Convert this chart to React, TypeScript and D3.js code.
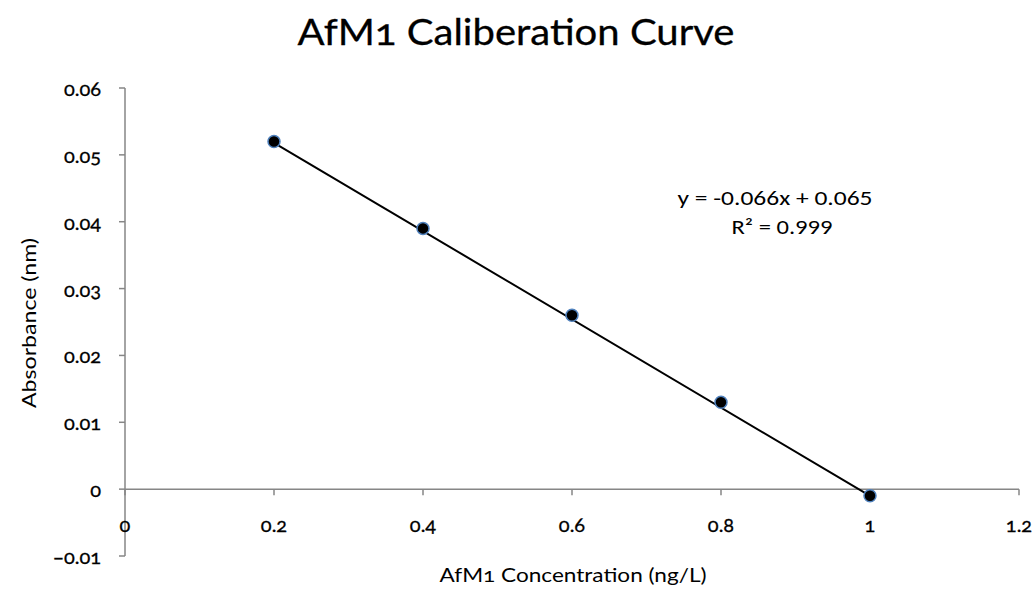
import React from "react";
import * as d3 from "d3";

const concentrations = [0.2, 0.4, 0.6, 0.8, 1.0];
const absorbance = [0.052, 0.039, 0.026, 0.013, -0.001];
const xTicks = [0, 0.2, 0.4, 0.6, 0.8, 1, 1.2];
const yTicks = [-0.01, 0, 0.01, 0.02, 0.03, 0.04, 0.05, 0.06];
const slope = -0.066;
const intercept = 0.065;
const equationLines = ["y = -0.066x + 0.065", "R² = 0.999"];

const W = 1034;
const H = 592;
const labelFont = "Lato, 'Open Sans', sans-serif";
const eqFont = "Carlito, 'Open Sans', 'Liberation Sans', sans-serif";
const axisColor = "#868686";
const oldstyle = { fontVariantNumeric: "oldstyle-nums" } as React.CSSProperties;

export default function App() {
  const x = d3.scaleLinear().domain([0, 1.2]).range([125, 1019]);
  const y = d3.scaleLinear().domain([-0.01, 0.06]).range([556, 88]);
  const fmt = (v: number) => (Math.abs(v) < 1e-9 ? "0" : d3.format("~g")(+v.toFixed(3)));

  const xTrend = d3.extent(concentrations) as [number, number];
  const trend = d3.line<number>()
    .x((d) => x(d))
    .y((d) => y(slope * d + intercept))(xTrend);

  return (
    <svg width={W} height={H} style={{ display: "block", position: "absolute", left: 0, top: 0 }}>
      <rect width={W} height={H} fill="#fff" />
      <text x={516} y={45} textAnchor="middle" fontFamily={labelFont} fontSize={36}
        stroke="#000" strokeWidth={0.3}
        textLength={437} lengthAdjust="spacingAndGlyphs" style={oldstyle} fill="#000">
        AfM1 Caliberation Curve
      </text>

      {/* y axis */}
      <line x1={x(0)} x2={x(0)} y1={y(0.06)} y2={y(-0.01)} stroke={axisColor} strokeWidth={1.5} />
      {yTicks.map((t) => (
        <g key={"y" + t}>
          <line x1={x(0) - 6} x2={x(0)} y1={y(t)} y2={y(t)} stroke={axisColor} strokeWidth={1.5} />
          <text x={101} y={y(t) + 8} textAnchor="end" fontFamily={labelFont} fontSize={20}
            stroke="#000" strokeWidth={0.3} style={oldstyle}>{fmt(t)}</text>
        </g>
      ))}

      {/* x axis at zero */}
      <line x1={x(0)} x2={x(1.2)} y1={y(0)} y2={y(0)} stroke={axisColor} strokeWidth={1.5} />
      {xTicks.map((t) => (
        <g key={"x" + t}>
          <line x1={x(t)} x2={x(t)} y1={y(0)} y2={y(0) + 6} stroke={axisColor} strokeWidth={1.5} />
          <text x={x(t)} y={532} textAnchor="middle" fontFamily={labelFont} fontSize={20}
            stroke="#000" strokeWidth={0.3} style={oldstyle}>{fmt(t)}</text>
        </g>
      ))}

      <text x={573} y={582} textAnchor="middle" fontFamily={labelFont} fontSize={19}
        textLength={267} lengthAdjust="spacingAndGlyphs" style={oldstyle}>AfM1 Concentration (ng/L)</text>
      <text transform={`translate(36,323) rotate(-90)`} textAnchor="middle" fontFamily={labelFont} fontSize={19}
        textLength={170} lengthAdjust="spacingAndGlyphs">
        Absorbance (nm)
      </text>

      {/* linear trendline */}
      <path d={trend ?? ""} stroke="#000" strokeWidth={2} fill="none" />

      {concentrations.map((c, i) => (
        <circle key={c} cx={x(c)} cy={y(absorbance[i])} r={6} fill="#000" stroke="#4f81bd" strokeWidth={1.5} />
      ))}

      <text x={775} y={205} textAnchor="middle" fontFamily={eqFont} fontSize={20}
        textLength={195} lengthAdjust="spacingAndGlyphs">{equationLines[0]}</text>
      <text x={782} y={234} textAnchor="middle" fontFamily={eqFont} fontSize={20}
        textLength={101} lengthAdjust="spacingAndGlyphs">{equationLines[1]}</text>
    </svg>
  );
}
